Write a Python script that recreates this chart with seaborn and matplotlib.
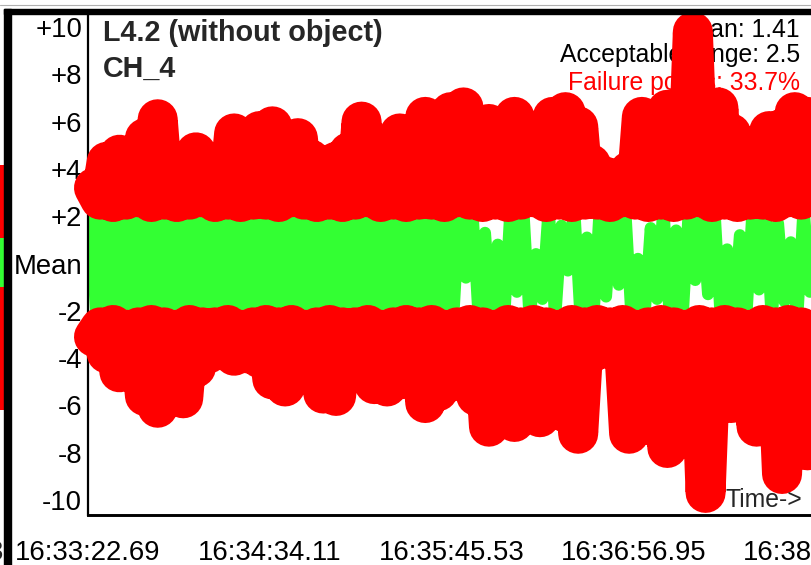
import numpy as np
import seaborn as sns
import matplotlib.pyplot as plt
from matplotlib.patches import Rectangle

W, H = 812, 565

# x axis: seconds after 16:33:22.69
tick_times = [0.0, 71.42, 142.84, 214.26, 285.68]
tick_labels = ["16:33:22.69", "16:34:34.11", "16:35:45.53", "16:36:56.95", "16:38:08.37"]
y_ticks = [10, 8, 6, 4, 2, 0, -2, -4, -6, -8, -10]
y_labels = ["+10", "+8", "+6", "+4", "+2", "Mean", "-2", "-4", "-6", "-8", "-10"]

# in-range signal (green), one sample every 2.5 s
green = [2.4, -2.4, 2.4, -2.3, 2.4, -2.4, 2.3, -2.4, 2.4, -2.3,
         2.4, -2.4, 2.4, -2.4, 2.3, -2.3, 2.4, -2.4, 2.4, -2.4,
         2.4, -2.3, 2.3, -2.4, 2.4, -2.4, 2.4, -2.3, 2.4, -2.4,
         2.3, -2.4, 2.4, -2.3, 2.4, -2.4, 2.4, -2.4, 2.3, -2.3,
         2.4, -2.4, 2.4, -2.4, 2.4, -2.3, 2.3, -2.4, 2.4, -2.4,
         2.4, -2.3, 2.4, -2.4, 2.3, -2.4, 2.4,
         -2.4, 2.4, -0.6, 2.4, -2.4, 1.3, -2.4, 0.8, -2.4, 2.4,
         -1.2, 2.4, -2.4, 0.4, -1.5, 2.4, -2.4, 1.6, -0.3, 2.4,
         -2.4, 1.1, -2.4, 2.4, -1.4, 2.4, -0.9, 2.4, -2.4, 0.2,
         -2.4, 1.5, -1.5, 2.4, -2.4, 1.4, -2.4, 2.4, -0.7, 2.4,
         -1.3, 2.4, -2.4, 0.6, -2.4, 1.2, -2.4, 2.4, -1.1, 2.4,
         -2.4, 1.7, -1.6, 0.9, -2.4, 2.4, -1.2, 2.4, -2.4]

# failure points (red), peaks every 5 s with the base samples in between
upper_peak = [3.2, 4.3, 4.6, 4.0, 5.3, 6.1, 4.1, 4.0, 4.7, 4.3,
              3.4, 5.5, 5.3, 5.6, 5.8, 5.0, 5.3, 4.4, 3.9, 4.3,
              4.7, 6.0, 4.8, 4.9, 5.5, 5.2, 6.2, 5.8, 6.4, 6.6,
              5.6, 5.9, 5.4, 6.2, 5.6, 5.3, 6.2, 6.4, 5.8, 4.2,
              3.7, 3.6, 3.9, 6.2, 6.0, 6.5, 6.3, 9.8, 6.6, 6.6,
              5.5, 4.9, 5.0, 5.6, 5.7, 6.4, 6.2, 6.7]
upper_base = [2.7, 2.6, 2.7, 2.8, 2.6, 2.7, 2.6, 2.7, 2.8, 2.6,
              2.7, 2.6, 2.7, 2.7, 2.6, 2.8, 2.7, 2.6, 2.7, 2.6,
              2.7, 2.8, 2.6, 2.7, 2.6, 2.7, 2.7, 2.6, 2.8, 2.7,
              2.6, 2.7, 2.6, 2.7, 2.8, 2.6, 2.7, 2.6, 2.7, 2.7,
              2.6, 2.8, 2.7, 2.6, 2.7, 2.6, 2.7, 2.8, 2.6, 2.7,
              2.6, 2.7, 2.7, 2.6, 2.8, 2.7, 2.6, 2.7]
lower_peak = [-3.1, -3.8, -4.6, -4.3, -5.6, -6.1, -5.5, -5.7, -4.4, -3.8,
              -3.6, -3.9, -3.8, -4.0, -4.9, -5.2, -4.5, -4.4, -5.5, -5.6,
              -4.3, -4.2, -5.1, -5.2, -4.9, -4.6, -5.9, -5.4, -5.0, -4.9,
              -5.6, -6.9, -6.2, -6.7, -6.3, -6.5, -6.0, -6.3, -7.2, -3.8,
              -3.6, -3.7, -7.2, -6.8, -6.9, -7.8, -7.0, -7.4, -9.7, -6.0,
              -5.9, -5.5, -6.9, -6.2, -8.9, -7.5, -7.9, -7.0]
lower_base = [-2.7, -2.6, -2.8, -2.7, -2.6, -2.7, -2.8, -2.6, -2.7, -2.7,
              -2.6, -2.8, -2.7, -2.6, -2.7, -2.6, -2.8, -2.7, -2.6, -2.7,
              -2.7, -2.6, -2.8, -2.7, -2.6, -2.7, -2.6, -2.8, -2.7, -2.6,
              -2.7, -2.8, -2.6, -2.7, -2.6, -2.7, -2.8, -2.6, -2.7, -2.6,
              -2.7, -2.6, -2.8, -2.7, -2.6, -2.7, -2.8, -2.6, -2.7, -2.6,
              -2.7, -2.8, -2.6, -2.7, -2.6, -2.7, -2.8, -2.6]

stats = ["Mean: 1.41", "Acceptable range: 2.5", "Failure points: 33.7%"]

RED = "#ff0000"
GREEN = "#33ff33"


def px(x):
    return x / W


def py(y):
    return 1 - y / H


def interleave(a, b):
    return np.column_stack([a, b]).ravel()


def plot_chart():
    sns.set_style("white")
    plt.rcParams['font.family'] = ['Liberation Sans', 'DejaVu Sans']

    fig = plt.figure(figsize=(W / 100, H / 100), dpi=100)
    ax = fig.add_axes([px(88), py(515), px(830 - 88), (515 - 13) / H])

    t_green = 0.8 + 2.5 * np.arange(len(green))
    t_red = 2.35 + 2.5 * np.arange(2 * len(upper_peak))

    ax.axhline(0, color="black", lw=2.4, ls=(0, (4, 2)), zorder=1)
    sns.lineplot(x=t_green, y=green, ax=ax, color=GREEN, linewidth=8.6,
                 sort=False, estimator=None, solid_joinstyle="round",
                 solid_capstyle="round", zorder=2)
    for peak, base in [(upper_peak, upper_base), (lower_peak, lower_base)]:
        sns.lineplot(x=t_red, y=interleave(peak, base), ax=ax, color=RED,
                     linewidth=28.8, sort=False, estimator=None,
                     solid_joinstyle="round", solid_capstyle="round",
                     clip_on=False, zorder=3)

    ax.set_xlim(0, 291.17)
    ax.set_ylim(-10.634, 10.592)
    ax.set_xticks(tick_times)
    ax.set_xticklabels(tick_labels)
    ax.set_yticks(y_ticks)
    ax.set_yticklabels(y_labels)
    ax.tick_params(axis="both", direction="in", length=8, width=2,
                   labelsize=19.8, colors="black")
    ax.tick_params(axis="x", pad=18)
    ax.tick_params(axis="y", pad=4.3)
    for side in ["top", "right"]:
        ax.spines[side].set_visible(False)
    ax.spines["left"].set_linewidth(1.6)
    ax.spines["bottom"].set_linewidth(2.1)
    ax.spines["left"].set_color("black")
    ax.spines["bottom"].set_color("black")
    ax.set_xlabel("")
    ax.set_ylabel("")

    tf = fig.transFigure
    ax.text(px(103), py(41), "L4.2 (without object)", transform=tf, fontsize=20.7,
            fontweight="bold", va="baseline", zorder=2.5, clip_on=False)
    ax.text(px(103), py(77), "CH_4", transform=tf, fontsize=20.7,
            fontweight="bold", va="baseline", zorder=2.5, clip_on=False)
    for label, base_y, col in zip(stats, [37, 62, 90], ["black", "black", RED]):
        ax.text(px(800), py(base_y), label, transform=tf, fontsize=17.8,
                ha="right", va="baseline", color=col, zorder=2.5, clip_on=False)
    ax.text(px(802), py(507), "Time->", transform=tf, fontsize=17.8,
            ha="right", va="baseline", zorder=4, clip_on=False)

    # edge of the neighbouring chart on the left
    edge = fig.add_axes([0, 0, px(4), 1])
    edge.set_xlim(0, 1)
    edge.set_ylim(H, 0)
    edge.axhspan(165, 238, color=RED, lw=0)
    edge.axhspan(238, 287, color=GREEN, lw=0)
    edge.axhspan(287, 410, color=RED, lw=0)
    edge.axis("off")
    fig.text(px(3), py(560), "3", fontsize=19.8, ha="right", va="baseline")

    # window frame
    fig.patches.append(Rectangle((px(4), 0), px(7), py(9), transform=tf,
                                 color="black", zorder=10))
    fig.patches.append(Rectangle((px(4), py(13.5)), 1, 4.5 / H, transform=tf,
                                 color="black", zorder=10))
    fig.lines.append(plt.Line2D([0, 1], [py(5), py(5)], transform=tf,
                                color="#b0b0b0", lw=0.8))

    fig.savefig("out.png", dpi=100)


if __name__ == "__main__":
    plot_chart()
